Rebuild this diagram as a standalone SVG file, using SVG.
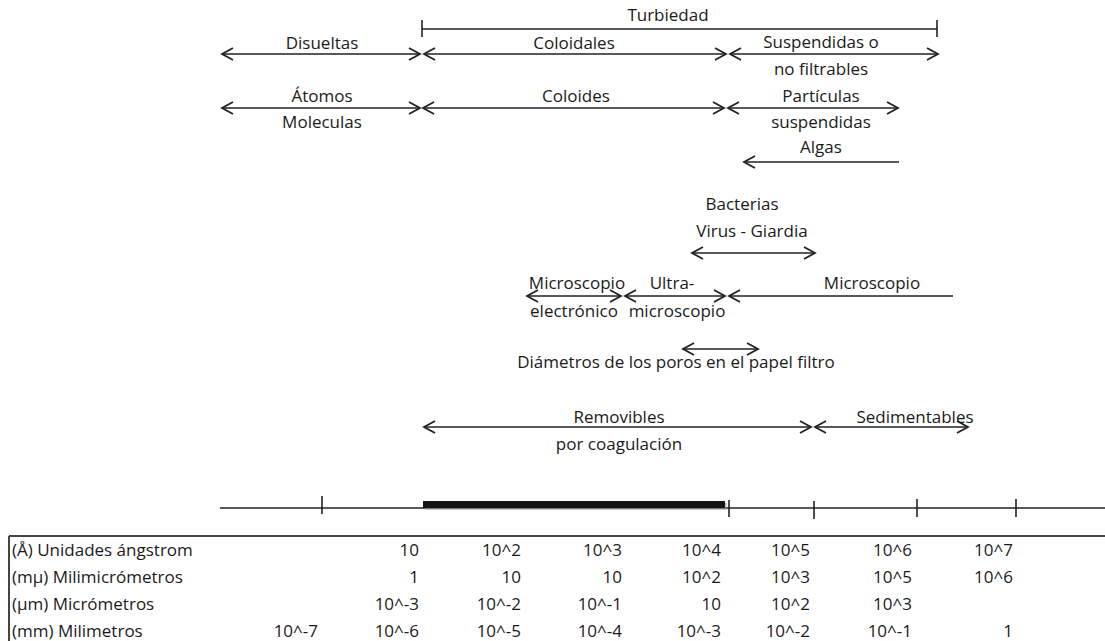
<svg xmlns="http://www.w3.org/2000/svg" width="1105" height="641" viewBox="0 0 1105 641">
<style>
  text { font-family: "Open Sans", "Liberation Sans", sans-serif; font-size: 17px; fill: #1a1a1a; }
  .c { text-anchor: middle; }
  .n { text-anchor: end; }
  .ln { stroke: #222; stroke-width: 1.6; fill: none; }
  .dbl { marker-start: url(#ah); marker-end: url(#ah); }
  .end { marker-end: url(#ah); }
  .tk { stroke: #222; stroke-width: 1.6; }
</style>
<defs>
  <marker id="ah" markerUnits="userSpaceOnUse" markerWidth="16" markerHeight="16" viewBox="-13 -8 16 16" refX="0" refY="0" orient="auto-start-reverse">
    <path d="M-11,-6 L0,0 L-11,6" fill="none" stroke="#222" stroke-width="1.8"/>
  </marker>
</defs>
<rect width="1105" height="641" fill="#ffffff"/>

<g id="connectors">
  <!-- Turbiedad span -->
  <line class="ln" x1="422" y1="29" x2="937" y2="29"/>
  <line class="tk" x1="422" y1="20" x2="422" y2="37"/>
  <line class="tk" x1="937" y1="20" x2="937" y2="37"/>
  <!-- row 2 -->
  <line class="ln dbl" x1="222" y1="54" x2="420" y2="54"/>
  <line class="ln dbl" x1="424" y1="54" x2="726" y2="54"/>
  <line class="ln dbl" x1="730" y1="54" x2="938" y2="54"/>
  <!-- row 3 -->
  <line class="ln dbl" x1="222" y1="108" x2="420" y2="108"/>
  <line class="ln dbl" x1="423" y1="108" x2="724" y2="108"/>
  <line class="ln dbl" x1="728" y1="108" x2="898" y2="108"/>
  <!-- Algas -->
  <line class="ln end" x1="899" y1="162" x2="744" y2="162"/>
  <!-- Bacterias -->
  <line class="ln dbl" x1="692" y1="253" x2="815" y2="253"/>
  <!-- Microscopes -->
  <line class="ln dbl" x1="527" y1="296" x2="621" y2="296"/>
  <line class="ln dbl" x1="625" y1="296" x2="725" y2="296"/>
  <line class="ln end" x1="953" y1="296" x2="729" y2="296"/>
  <!-- Diametros -->
  <line class="ln dbl" x1="683" y1="349" x2="758" y2="349"/>
  <!-- Removibles / Sedimentables -->
  <line class="ln dbl" x1="424" y1="427" x2="811" y2="427"/>
  <line class="ln dbl" x1="815" y1="427" x2="968" y2="427"/>
</g>

<g id="scale-axis">
  <line class="ln" x1="220" y1="508" x2="1105" y2="508"/>
  <rect x="425" y="503" width="302" height="7" fill="#9a9a9a" opacity="0.5"/>
  <rect x="423" y="501" width="302" height="7" fill="#151515"/>
  <line class="tk" x1="322" y1="496" x2="322" y2="514"/>
  <line class="tk" x1="729" y1="500" x2="729" y2="517"/>
  <line class="tk" x1="814" y1="501" x2="814" y2="519"/>
  <line class="tk" x1="917" y1="499" x2="917" y2="517"/>
  <line class="tk" x1="1016" y1="499" x2="1016" y2="517"/>
</g>

<g id="turbiedad"><text class="c" x="668" y="21">Turbiedad</text></g>
<g id="disueltas"><text class="c" x="322" y="49">Disueltas</text></g>
<g id="coloidales"><text class="c" x="574" y="49">Coloidales</text></g>
<g id="suspendidas"><text class="c" x="821" y="48">Suspendidas o</text><text class="c" x="821" y="75">no filtrables</text></g>
<g id="atomos"><text class="c" x="322" y="102">Átomos</text><text class="c" x="322" y="128">Moleculas</text></g>
<g id="coloides"><text class="c" x="576" y="102">Coloides</text></g>
<g id="particulas"><text class="c" x="821" y="102">Partículas</text><text class="c" x="821" y="128">suspendidas</text></g>
<g id="algas"><text class="c" x="821" y="153">Algas</text></g>
<g id="bacterias"><text class="c" x="742" y="210">Bacterias</text><text class="c" x="752" y="237">Virus - Giardia</text></g>
<g id="microscopio-electronico"><text class="c" x="577" y="289">Microscopio</text><text class="c" x="574" y="317">electrónico</text></g>
<g id="ultramicroscopio"><text class="c" x="672" y="289">Ultra-</text><text class="c" x="677" y="317">microscopio</text></g>
<g id="microscopio"><text class="c" x="872" y="289">Microscopio</text></g>
<g id="diametros"><text class="c" x="676" y="368">Diámetros de los poros en el papel filtro</text></g>
<g id="removibles"><text class="c" x="619" y="423">Removibles</text><text class="c" x="619" y="450">por coagulación</text></g>
<g id="sedimentables"><text class="c" x="915" y="423">Sedimentables</text></g>

<g id="table">
  <line x1="9" y1="536" x2="1105" y2="536" stroke="#444" stroke-width="2"/>
  <line x1="9" y1="536" x2="9" y2="641" stroke="#444" stroke-width="2"/>
  <text x="12" y="556">(Å) Unidades ángstrom</text>
  <text x="12" y="583">(mμ) Milimicrómetros</text>
  <text x="12" y="610">(μm) Micrómetros</text>
  <text x="12" y="637">(mm) Milimetros</text>

  <text class="n" x="419" y="556">10</text>
  <text class="n" x="521" y="556">10^2</text>
  <text class="n" x="622" y="556">10^3</text>
  <text class="n" x="721" y="556">10^4</text>
  <text class="n" x="810" y="556">10^5</text>
  <text class="n" x="912" y="556">10^6</text>
  <text class="n" x="1013" y="556">10^7</text>

  <text class="n" x="419" y="583">1</text>
  <text class="n" x="521" y="583">10</text>
  <text class="n" x="622" y="583">10</text>
  <text class="n" x="721" y="583">10^2</text>
  <text class="n" x="810" y="583">10^3</text>
  <text class="n" x="912" y="583">10^5</text>
  <text class="n" x="1013" y="583">10^6</text>

  <text class="n" x="419" y="610">10^-3</text>
  <text class="n" x="521" y="610">10^-2</text>
  <text class="n" x="622" y="610">10^-1</text>
  <text class="n" x="721" y="610">10</text>
  <text class="n" x="810" y="610">10^2</text>
  <text class="n" x="912" y="610">10^3</text>

  <text class="n" x="318" y="637">10^-7</text>
  <text class="n" x="419" y="637">10^-6</text>
  <text class="n" x="521" y="637">10^-5</text>
  <text class="n" x="622" y="637">10^-4</text>
  <text class="n" x="721" y="637">10^-3</text>
  <text class="n" x="810" y="637">10^-2</text>
  <text class="n" x="912" y="637">10^-1</text>
  <text class="n" x="1013" y="637">1</text>
</g>
</svg>
